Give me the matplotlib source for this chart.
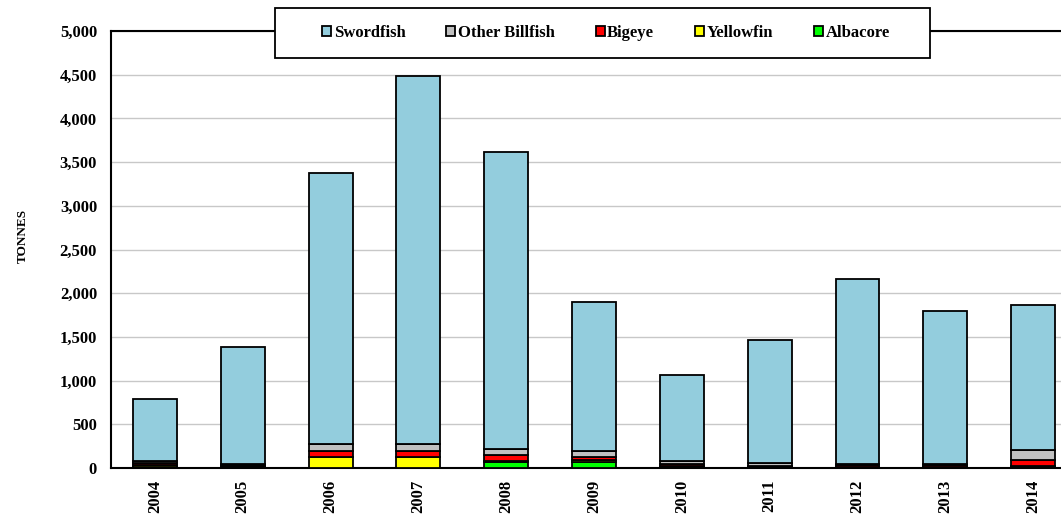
import matplotlib.pyplot as plt
import numpy as np
from matplotlib.ticker import FuncFormatter
from matplotlib.patches import Rectangle

years = ['2004', '2005', '2006', '2007', '2008', '2009', '2010', '2011', '2012', '2013', '2014']
albacore = [15, 10, 5, 5, 70, 70, 10, 5, 5, 5, 10]
yellowfin = [15, 10, 120, 120, 15, 25, 10, 5, 5, 5, 10]
bigeye = [30, 15, 75, 75, 65, 35, 25, 15, 20, 20, 75]
other_billfish = [15, 10, 75, 75, 70, 60, 40, 35, 15, 15, 115]
swordfish = [715, 1335, 3105, 4205, 3400, 1710, 975, 1410, 2115, 1755, 1650]

series = [
    ('Albacore', albacore, '#00FF00'),
    ('Yellowfin', yellowfin, '#FFFF00'),
    ('Bigeye', bigeye, '#FF0000'),
    ('Other Billfish', other_billfish, '#C0C0C0'),
    ('Swordfish', swordfish, '#93CDDD'),
]

plt.rcParams['font.family'] = ['Liberation Serif', 'DejaVu Serif']
plt.rcParams['font.weight'] = 'bold'

W, H = 1061, 517
fig = plt.figure(figsize=(W / 100, H / 100), dpi=100)
ax = fig.add_axes([111 / W, 49 / H, 966 / W, 437 / H])

x = np.arange(len(years))
bottom = np.zeros(len(years))
handles = {}
for name, vals, col in series:
    b = ax.bar(x, vals, width=0.5, bottom=bottom, color=col, edgecolor='black',
               linewidth=1.3, label=name, zorder=3)
    handles[name] = b
    bottom += np.array(vals)

ax.set_xlim(-0.5, len(years) - 0.5)
ax.set_ylim(0, 5000)
ax.set_yticks(np.arange(0, 5001, 500))
ax.yaxis.set_major_formatter(FuncFormatter(lambda v, p: f'{int(v):,}'))
ax.set_xticks(x)
ax.set_xticklabels(years, rotation=90, fontsize=12, fontweight='bold')
ax.tick_params(axis='y', labelsize=12, length=0, pad=10)
ax.tick_params(axis='x', length=0, pad=8.5)
for lab in ax.get_yticklabels():
    lab.set_fontweight('bold')
ax.grid(axis='y', color='#C8C8C8', linewidth=1, zorder=0)
for s in ax.spines.values():
    s.set_linewidth(1.5)
    s.set_color('black')

ax.set_ylabel('TONNES', fontsize=9.5, fontweight='bold')
ax.yaxis.set_label_coords(-0.085, 0.53)

# legend box drawn separately so its size matches the original
fig.patches.append(Rectangle((275 / W, 1 - 58 / H), 655 / W, 50 / H,
                             transform=fig.transFigure, facecolor='white',
                             edgecolor='black', linewidth=1.3, zorder=9))
order = ['Swordfish', 'Other Billfish', 'Bigeye', 'Yellowfin', 'Albacore']
leg = fig.legend([handles[n] for n in order], order, ncol=5, loc='center',
                 bbox_to_anchor=(606 / W, 1 - 33 / H), frameon=False,
                 prop={'size': 12, 'weight': 'bold'}, handlelength=0.55,
                 handleheight=0.55, handletextpad=0.15, columnspacing=2.45)
leg.set_zorder(10)

fig.savefig('out.png', dpi=100)
